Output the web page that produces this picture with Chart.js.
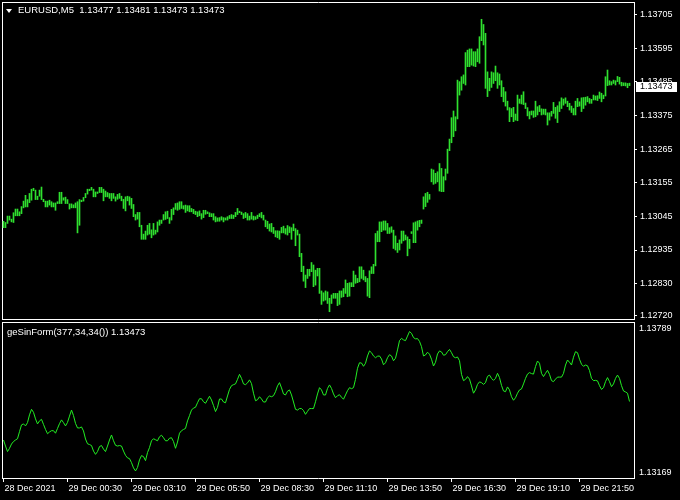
<!DOCTYPE html>
<html><head><meta charset="utf-8">
<script src="https://cdn.jsdelivr.net/npm/chart.js@4.4.0/dist/chart.umd.min.js"></script>
<style>
html,body{margin:0;padding:0;background:#000;}
#wrap{position:relative;width:680px;height:500px;background:#000;overflow:hidden;}
canvas{position:absolute;left:0;top:0;}
.t{position:absolute;color:#fff;font-family:"Liberation Sans",Arial,sans-serif;font-size:9.5px;white-space:pre;line-height:10px;}
#tri{position:absolute;left:6px;top:9px;width:0;height:0;border-left:3px solid transparent;border-right:3px solid transparent;border-top:4px solid #fff;}
</style></head><body>
<div id="wrap">
<canvas id="top" width="680" height="500"></canvas>
<canvas id="bot" width="680" height="500"></canvas>
<div id="tri"></div>
<div class="t" id="hdr" style="left:18px;top:5px;"></div>
<div class="t" id="sub" style="left:7px;top:327px;"></div>
</div>
<script>
// ---------- data ----------
const symbol = "EURUSD,M5";
const headerOHLC = ["1.13477", "1.13481", "1.13473", "1.13473"];
const indicatorName = "geSinForm(377,34,34())";
const indicatorLast = "1.13473";

const barHigh = [
1.13029,1.13025,1.13046,1.13046,1.13036,1.13057,1.13069,1.13069,1.13060,1.13077,
1.13095,1.13114,1.13100,1.13120,1.13134,1.13137,1.13131,1.13111,1.13131,1.13141,
1.13101,1.13095,1.13095,1.13098,1.13093,1.13089,1.13089,1.13093,1.13124,1.13124,
1.13106,1.13108,1.13100,1.13086,1.13086,1.13083,1.13089,1.13093,1.13100,1.13098,
1.13107,1.13120,1.13134,1.13134,1.13140,1.13134,1.13125,1.13125,1.13140,1.13140,
1.13134,1.13128,1.13123,1.13120,1.13120,1.13120,1.13109,1.13117,1.13120,1.13111,
1.13101,1.13109,1.13111,1.13109,1.13104,1.13084,1.13051,1.13058,1.13058,1.13016,
1.12987,1.12997,1.13016,1.13022,1.13001,1.13022,1.13000,1.13027,1.13033,1.13033,
1.13051,1.13060,1.13062,1.13041,1.13068,1.13073,1.13087,1.13089,1.13093,1.13093,
1.13080,1.13082,1.13080,1.13080,1.13071,1.13068,1.13062,1.13060,1.13063,1.13054,
1.13065,1.13065,1.13060,1.13057,1.13054,1.13054,1.13044,1.13040,1.13041,1.13044,
1.13041,1.13040,1.13044,1.13048,1.13051,1.13049,1.13058,1.13071,1.13062,1.13059,
1.13054,1.13058,1.13054,1.13046,1.13058,1.13046,1.13044,1.13049,1.13054,1.13058,
1.13049,1.13033,1.13029,1.13020,1.13022,1.13009,1.12998,1.12998,1.12997,1.13009,
1.13013,1.13005,1.13015,1.13011,1.13008,1.13020,1.13005,1.13000,1.12987,1.12924,
1.12882,1.12853,1.12872,1.12872,1.12894,1.12886,1.12869,1.12875,1.12875,1.12801,
1.12795,1.12801,1.12798,1.12777,1.12788,1.12793,1.12793,1.12793,1.12801,1.12801,
1.12809,1.12837,1.12826,1.12828,1.12828,1.12866,1.12853,1.12842,1.12880,1.12880,
1.12869,1.12848,1.12842,1.12867,1.12880,1.12888,1.12989,1.12997,1.13027,1.13027,
1.13030,1.13030,1.13022,1.13008,1.13011,1.13000,1.12981,1.12957,1.12968,1.12997,
1.12997,1.12984,1.12978,1.12970,1.12995,1.13024,1.13027,1.13030,1.13032,1.13033,
1.13109,1.13120,1.13124,1.13117,1.13200,1.13197,1.13186,1.13191,1.13218,1.13202,
1.13175,1.13200,1.13265,1.13298,1.13368,1.13390,1.13371,1.13491,1.13486,1.13502,
1.13508,1.13581,1.13589,1.13593,1.13593,1.13584,1.13584,1.13593,1.13633,1.13690,
1.13673,1.13644,1.13518,1.13497,1.13518,1.13515,1.13537,1.13515,1.13511,1.13489,
1.13467,1.13453,1.13422,1.13401,1.13398,1.13402,1.13380,1.13442,1.13429,1.13442,
1.13453,1.13416,1.13401,1.13388,1.13390,1.13390,1.13422,1.13404,1.13408,1.13397,
1.13396,1.13396,1.13384,1.13384,1.13389,1.13418,1.13402,1.13407,1.13420,1.13433,
1.13429,1.13433,1.13422,1.13415,1.13406,1.13398,1.13422,1.13431,1.13420,1.13433,
1.13434,1.13435,1.13437,1.13431,1.13428,1.13442,1.13439,1.13440,1.13452,1.13448,
1.13442,1.13502,1.13524,1.13489,1.13486,1.13491,1.13489,1.13503,1.13500,1.13484,
1.13482,1.13482,1.13480,1.13481];

const barLow = [
1.13008,1.13008,1.13022,1.13033,1.13027,1.13025,1.13047,1.13047,1.13047,1.13054,
1.13073,1.13076,1.13076,1.13090,1.13098,1.13129,1.13100,1.13100,1.13111,1.13100,
1.13093,1.13076,1.13076,1.13082,1.13076,1.13076,1.13065,1.13087,1.13087,1.13087,
1.13098,1.13087,1.13087,1.13069,1.13073,1.13073,1.13073,1.12991,1.13016,1.13093,
1.13095,1.13106,1.13118,1.13129,1.13131,1.13109,1.13109,1.13120,1.13123,1.13123,
1.13096,1.13109,1.13109,1.13104,1.13096,1.13104,1.13095,1.13101,1.13104,1.13096,
1.13071,1.13063,1.13096,1.13082,1.13071,1.13044,1.13033,1.13036,1.13011,1.12970,
1.12970,1.12970,1.12984,1.12987,1.12975,1.12984,1.12987,1.12994,1.13016,1.13022,
1.13033,1.13035,1.13038,1.13022,1.13033,1.13051,1.13068,1.13065,1.13068,1.13071,
1.13069,1.13058,1.13063,1.13060,1.13060,1.13054,1.13051,1.13044,1.13047,1.13036,
1.13041,1.13052,1.13054,1.13044,1.13044,1.13033,1.13027,1.13029,1.13029,1.13033,
1.13027,1.13033,1.13033,1.13038,1.13038,1.13038,1.13044,1.13051,1.13057,1.13051,
1.13038,1.13041,1.13033,1.13033,1.13036,1.13033,1.13035,1.13038,1.13044,1.13040,
1.13033,1.13011,1.13005,1.12997,1.12994,1.12989,1.12978,1.12975,1.12970,1.12991,
1.12991,1.12987,1.12984,1.12992,1.12970,1.12998,1.12949,1.12984,1.12913,1.12864,
1.12833,1.12812,1.12842,1.12850,1.12864,1.12815,1.12820,1.12850,1.12793,1.12757,
1.12768,1.12771,1.12760,1.12733,1.12760,1.12777,1.12777,1.12753,1.12757,1.12780,
1.12782,1.12793,1.12782,1.12784,1.12815,1.12815,1.12826,1.12828,1.12831,1.12842,
1.12837,1.12831,1.12784,1.12779,1.12858,1.12858,1.12883,1.12962,1.12962,1.12995,
1.13000,1.13000,1.12989,1.12989,1.12993,1.12940,1.12935,1.12927,1.12935,1.12957,
1.12965,1.12968,1.12916,1.12940,1.12989,1.12959,1.12959,1.13000,1.13011,1.13022,
1.13069,1.13077,1.13091,1.13101,1.13158,1.13150,1.13153,1.13158,1.13128,1.13126,
1.13126,1.13164,1.13186,1.13260,1.13286,1.13306,1.13325,1.13364,1.13442,1.13458,
1.13480,1.13475,1.13535,1.13535,1.13540,1.13537,1.13535,1.13551,1.13546,1.13620,
1.13606,1.13464,1.13437,1.13456,1.13467,1.13480,1.13489,1.13464,1.13475,1.13437,
1.13420,1.13406,1.13393,1.13355,1.13371,1.13355,1.13360,1.13358,1.13415,1.13413,
1.13411,1.13398,1.13374,1.13364,1.13377,1.13369,1.13371,1.13377,1.13388,1.13377,
1.13379,1.13377,1.13344,1.13360,1.13373,1.13382,1.13366,1.13352,1.13388,1.13398,
1.13409,1.13415,1.13404,1.13393,1.13385,1.13377,1.13377,1.13404,1.13406,1.13388,
1.13398,1.13409,1.13420,1.13415,1.13415,1.13426,1.13426,1.13424,1.13431,1.13420,
1.13430,1.13439,1.13473,1.13475,1.13475,1.13480,1.13475,1.13486,1.13478,1.13472,
1.13473,1.13472,1.13466,1.13473];

const sinForm = [
1.13320,1.13296,1.13274,1.13287,1.13304,1.13314,1.13320,1.13325,1.13353,1.13380,
1.13384,1.13376,1.13389,1.13420,1.13442,1.13430,1.13404,1.13384,1.13396,1.13402,
1.13382,1.13362,1.13345,1.13352,1.13357,1.13357,1.13347,1.13366,1.13385,1.13400,
1.13389,1.13376,1.13390,1.13415,1.13439,1.13417,1.13386,1.13368,1.13368,1.13372,
1.13356,1.13324,1.13305,1.13302,1.13298,1.13276,1.13263,1.13274,1.13294,1.13298,
1.13284,1.13274,1.13296,1.13320,1.13340,1.13317,1.13299,1.13296,1.13298,1.13296,
1.13276,1.13259,1.13249,1.13246,1.13230,1.13209,1.13197,1.13211,1.13241,1.13258,
1.13254,1.13238,1.13270,1.13290,1.13317,1.13325,1.13321,1.13317,1.13333,1.13339,
1.13329,1.13317,1.13317,1.13327,1.13329,1.13314,1.13287,1.13312,1.13347,1.13357,
1.13362,1.13366,1.13396,1.13417,1.13439,1.13447,1.13450,1.13468,1.13484,1.13484,
1.13472,1.13466,1.13480,1.13494,1.13479,1.13457,1.13433,1.13450,1.13483,1.13483,
1.13471,1.13468,1.13495,1.13521,1.13536,1.13540,1.13543,1.13561,1.13581,1.13565,
1.13543,1.13540,1.13547,1.13559,1.13544,1.13506,1.13476,1.13480,1.13492,1.13483,
1.13471,1.13471,1.13488,1.13495,1.13492,1.13496,1.13512,1.13535,1.13548,1.13527,
1.13503,1.13499,1.13514,1.13519,1.13499,1.13471,1.13442,1.13439,1.13445,1.13445,
1.13437,1.13422,1.13434,1.13445,1.13445,1.13445,1.13472,1.13503,1.13528,1.13519,
1.13499,1.13499,1.13525,1.13539,1.13525,1.13503,1.13488,1.13496,1.13500,1.13490,
1.13482,1.13499,1.13516,1.13528,1.13524,1.13528,1.13561,1.13605,1.13627,1.13626,
1.13613,1.13625,1.13654,1.13674,1.13667,1.13654,1.13647,1.13653,1.13654,1.13642,
1.13619,1.13627,1.13647,1.13659,1.13654,1.13635,1.13645,1.13678,1.13715,1.13724,
1.13718,1.13715,1.13733,1.13751,1.13744,1.13727,1.13722,1.13723,1.13712,1.13691,
1.13654,1.13658,1.13669,1.13661,1.13641,1.13614,1.13629,1.13662,1.13674,1.13670,
1.13657,1.13659,1.13671,1.13680,1.13667,1.13651,1.13647,1.13650,1.13635,1.13581,
1.13556,1.13561,1.13572,1.13562,1.13535,1.13506,1.13519,1.13541,1.13551,1.13548,
1.13541,1.13548,1.13573,1.13578,1.13565,1.13557,1.13565,1.13585,1.13568,1.13537,
1.13515,1.13512,1.13531,1.13519,1.13492,1.13478,1.13488,1.13506,1.13519,1.13523,
1.13543,1.13565,1.13582,1.13588,1.13584,1.13582,1.13612,1.13634,1.13625,1.13585,
1.13572,1.13585,1.13597,1.13581,1.13556,1.13552,1.13562,1.13570,1.13570,1.13570,
1.13585,1.13618,1.13638,1.13629,1.13618,1.13649,1.13671,1.13667,1.13641,1.13621,
1.13613,1.13618,1.13615,1.13596,1.13565,1.13556,1.13557,1.13555,1.13536,1.13521,
1.13528,1.13552,1.13568,1.13552,1.13532,1.13543,1.13565,1.13578,1.13565,1.13536,
1.13515,1.13511,1.13506,1.13473];

const priceTickValues = [1.13705,1.13595,1.13485,1.13375,1.13265,1.13155,1.13045,1.12935,1.12826,1.12720];
const priceTickLabels = ["1.13705","1.13595","1.13485","1.13375","1.13265","1.13155","1.13045","1.12935","1.12830","1.12720"];
const lastPrice = 1.13473;
const lastPriceLabel = "1.13473";
const subRange = [1.13169, 1.13789];
const subRangeLabels = ["1.13169", "1.13789"];
const timeTickBars = [0,32,64,96,128,160,192,224,256,288];
const timeTickLabels = ["28 Dec 2021","29 Dec 00:30","29 Dec 03:10","29 Dec 05:50","29 Dec 08:30","29 Dec 11:10","29 Dec 13:50","29 Dec 16:30","29 Dec 19:10","29 Dec 21:50"];

// ---------- style ----------
const BAR_GREEN = '#2fe02f';
const LINE_GREEN = '#22ee22';
const WHITE = '#ffffff';
const FONT = 'Liberation Sans';
const X_MIN = -0.75, X_MAX = 315.25;
const PRICE_MIN = 1.127092, PRICE_MAX = 1.137466;

document.getElementById('hdr').textContent = symbol + '  ' + headerOHLC.join(' ');
document.getElementById('sub').textContent = indicatorName + ' ' + indicatorLast;

function noPad(s) { s.paddingTop = 0; s.paddingBottom = 0; s.paddingLeft = 0; s.paddingRight = 0; }

function frameAxis(pos, extra) {
  return Object.assign({
    type: 'linear', position: pos, display: true, offset: false,
    ticks: { display: false },
    grid: { display: false, drawTicks: false, drawOnChartArea: false, offset: false },
    border: { display: true, color: WHITE, width: 1 },
    afterFit: s => { noPad(s); if (pos === 'top' || pos === 'bottom') s.height = 0; else s.width = 0; }
  }, extra || {});
}

const priceTag = {
  id: 'priceTag',
  afterDraw(chart) {
    const ctx = chart.ctx, y = chart.scales.y.getPixelForValue(lastPrice);
    const x = chart.chartArea.right;
    ctx.save();
    ctx.fillStyle = WHITE;
    ctx.fillRect(x + 2, Math.round(y) - 4, 41, 10);
    ctx.fillStyle = '#000';
    ctx.font = '9px "' + FONT + '"';
    ctx.textBaseline = 'middle';
    ctx.textAlign = 'left';
    ctx.fillText(lastPriceLabel, x + 6, Math.round(y) + 1);
    ctx.restore();
  }
};

new Chart(document.getElementById('top'), {
  type: 'bar',
  data: { datasets: [{
    xAxisID: 'x', yAxisID: 'y',
    data: barHigh.map((h, i) => ({ x: i, y: [barLow[i], h] })),
    backgroundColor: BAR_GREEN, borderWidth: 0, barThickness: 1, grouped: false
  }]},
  options: {
    responsive: false, animation: false, devicePixelRatio: 1,
    layout: { padding: { left: 2, top: 2, right: 0, bottom: 181 } },
    plugins: { legend: { display: false }, tooltip: { enabled: false } },
    scales: {
      x: frameAxis('bottom', { min: X_MIN, max: X_MAX }),
      xt: frameAxis('top', { min: X_MIN, max: X_MAX }),
      yl: frameAxis('left', { min: 0, max: 1 }),
      y: {
        type: 'linear', position: 'right', min: PRICE_MIN, max: PRICE_MAX,
        afterBuildTicks: s => { s.ticks = priceTickValues.map(v => ({ value: v })); },
        afterFit: s => { s.width = 46; noPad(s); },
        ticks: { color: WHITE, font: { family: FONT, size: 9 }, padding: 3,
                 callback: (v, i) => priceTickLabels[i] },
        grid: { display: true, drawOnChartArea: false, drawTicks: true, tickLength: 3, color: WHITE },
        border: { display: true, color: WHITE, width: 1 }
      }
    }
  },
  plugins: [priceTag]
});

const subLabels = {
  id: 'subLabels',
  afterDraw(chart) {
    const ctx = chart.ctx, a = chart.chartArea;
    ctx.save();
    ctx.fillStyle = WHITE;
    ctx.font = '9px "' + FONT + '"';
    ctx.textAlign = 'left';
    ctx.textBaseline = 'middle';
    ctx.fillText(subRangeLabels[1], a.right + 5, a.top + 7);
    ctx.fillText(subRangeLabels[0], a.right + 5, a.bottom - 5);
    ctx.restore();
  }
};

new Chart(document.getElementById('bot'), {
  type: 'line',
  data: { datasets: [{
    xAxisID: 'x', yAxisID: 'y',
    data: sinForm.map((v, i) => ({ x: i, y: v })),
    borderColor: LINE_GREEN, borderWidth: 1, pointRadius: 0, tension: 0, fill: false
  }]},
  options: {
    responsive: false, animation: false, devicePixelRatio: 1,
    layout: { padding: { left: 2, top: 322, right: 0, bottom: 0 } },
    plugins: { legend: { display: false }, tooltip: { enabled: false } },
    scales: {
      x: {
        type: 'linear', position: 'bottom', min: X_MIN, max: X_MAX, offset: false,
        afterBuildTicks: s => { s.ticks = timeTickBars.map(v => ({ value: v })); },
        afterFit: s => { s.height = 22; noPad(s); },
        ticks: { color: WHITE, font: { family: FONT, size: 9 }, padding: 1, align: 'start',
                 maxRotation: 0, minRotation: 0, autoSkip: false, labelOffset: 1,
                 callback: (v, i) => timeTickLabels[i] },
        grid: { display: true, drawOnChartArea: false, drawTicks: true, tickLength: 4, color: WHITE },
        border: { display: true, color: WHITE, width: 1 }
      },
      xt: frameAxis('top', { min: X_MIN, max: X_MAX }),
      yl: frameAxis('left', { min: 0, max: 1 }),
      y: {
        type: 'linear', position: 'right', min: subRange[0], max: subRange[1],
        afterFit: s => { s.width = 46; noPad(s); },
        ticks: { display: false },
        grid: { display: false, drawTicks: false, drawOnChartArea: false },
        border: { display: true, color: WHITE, width: 1 }
      }
    }
  },
  plugins: [subLabels]
});
</script>
</body></html>
